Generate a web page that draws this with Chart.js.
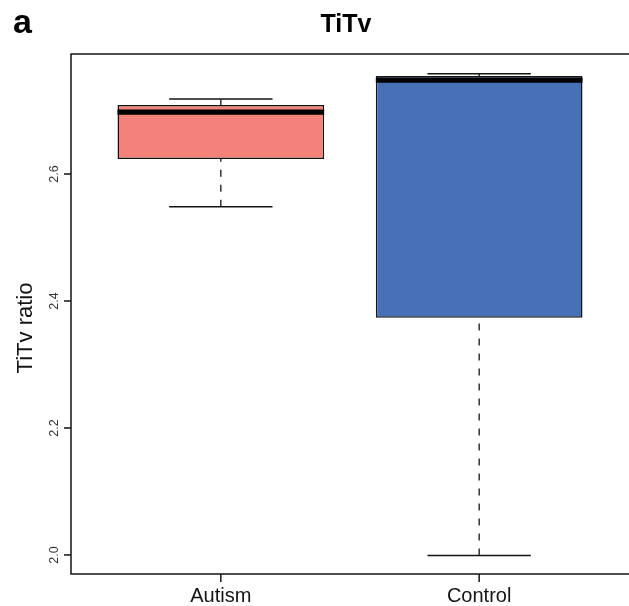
<!DOCTYPE html>
<html>
<head>
<meta charset="utf-8">
<script src="https://cdn.jsdelivr.net/npm/chart.js@4.4.1/dist/chart.umd.min.js"></script>
<style>
  html, body { margin: 0; padding: 0; background: #fff; overflow: hidden; }
  #wrap { width: 629px; height: 606px; position: relative; }
  canvas { display: block; }
</style>
</head>
<body>
<div id="wrap"><canvas id="c" width="629" height="606" style="width:629px;height:606px"></canvas></div>
<script>
// ---- data ----
const categories = ['Autism', 'Control'];
const categoryX = [1, 2];
const whiskerLow = [2.5485, 1.999];
const q1 = [2.6236, 2.3737];
const median = [2.6976, 2.7477];
const q3 = [2.7087, 2.7543];
const whiskerHigh = [2.7181, 2.7580];
const yTicks = [2.0, 2.2, 2.4, 2.6];
const yTickLabels = ['2.0', '2.2', '2.4', '2.6'];
const boxColors = ['#F4827A', '#4870B6'];

const titleText = 'TiTv';
const panelLabel = 'a';
const yTitle = 'TiTv ratio';

const FONT = '"Liberation Sans", Arial, Helvetica, sans-serif';
const INK = '#141414';

const boxplotPlugin = {
  id: 'boxplotExtras',
  afterDatasetsDraw(chart) {
    const ctx = chart.ctx;
    const xs = chart.scales.x, ys = chart.scales.y;
    const area = chart.chartArea;
    const meta = chart.getDatasetMeta(0);
    ctx.save();

    meta.data.forEach((bar, i) => {
      const cx = bar.x;
      const half = bar.width / 2;
      ctx.strokeStyle = INK;
      ctx.lineWidth = 1.3;
      ctx.setLineDash([7, 8]);
      ctx.beginPath();
      ctx.moveTo(cx, ys.getPixelForValue(whiskerLow[i]));
      ctx.lineTo(cx, ys.getPixelForValue(q1[i]));
      ctx.stroke();
      ctx.beginPath();
      ctx.moveTo(cx, ys.getPixelForValue(whiskerHigh[i]));
      ctx.lineTo(cx, ys.getPixelForValue(q3[i]));
      ctx.stroke();
      ctx.setLineDash([]);
      ctx.lineWidth = 1.5;
      const sh = half / 2;
      [whiskerLow[i], whiskerHigh[i]].forEach(v => {
        const py = ys.getPixelForValue(v);
        ctx.beginPath();
        ctx.moveTo(cx - sh, py);
        ctx.lineTo(cx + sh, py);
        ctx.stroke();
      });
      ctx.strokeStyle = '#000';
      ctx.lineWidth = 5.3;
      const my = ys.getPixelForValue(median[i]);
      ctx.beginPath();
      ctx.moveTo(cx - half, my);
      ctx.lineTo(cx + half, my);
      ctx.stroke();
    });

    ctx.strokeStyle = INK;
    ctx.lineWidth = 1.5;
    ctx.beginPath();
    ctx.moveTo(chart.width + 2, area.top);
    ctx.lineTo(area.left, area.top);
    ctx.lineTo(area.left, area.bottom);
    ctx.lineTo(chart.width + 2, area.bottom);
    ctx.stroke();

    ctx.fillStyle = INK;
    yTicks.forEach((v, i) => {
      const py = ys.getPixelForValue(v);
      ctx.beginPath();
      ctx.moveTo(area.left - 7, py);
      ctx.lineTo(area.left, py);
      ctx.stroke();
      ctx.save();
      ctx.translate(57.5, py);
      ctx.rotate(-Math.PI / 2);
      ctx.font = '12.5px ' + FONT;
      ctx.textAlign = 'center';
      ctx.textBaseline = 'alphabetic';
      ctx.fillStyle = '#333';
      ctx.fillText(yTickLabels[i], 0, 0);
      ctx.restore();
    });

    categoryX.forEach((v, i) => {
      const px = xs.getPixelForValue(v);
      ctx.beginPath();
      ctx.moveTo(px, area.bottom);
      ctx.lineTo(px, area.bottom + 8);
      ctx.stroke();
      ctx.font = '20px ' + FONT;
      ctx.textAlign = 'center';
      ctx.textBaseline = 'alphabetic';
      ctx.fillText(categories[i], px, 601.5);
    });

    ctx.save();
    ctx.translate(32, 328);
    ctx.rotate(-Math.PI / 2);
    ctx.font = '22px ' + FONT;
    ctx.textAlign = 'center';
    ctx.textBaseline = 'alphabetic';
    ctx.fillText(yTitle, 0, 0);
    ctx.restore();

    ctx.font = 'bold 25px ' + FONT;
    ctx.textAlign = 'center';
    ctx.textBaseline = 'alphabetic';
    ctx.fillStyle = '#000';
    ctx.fillText(titleText, 346, 32);

    ctx.font = 'bold 34px ' + FONT;
    ctx.textAlign = 'left';
    ctx.fillText(panelLabel, 13, 33);

    ctx.restore();
  }
};

new Chart(document.getElementById('c'), {
  type: 'bar',
  data: {
    datasets: [{
      data: categoryX.map((x, i) => ({ x: x, y: [q1[i], q3[i]] })),
      backgroundColor: boxColors,
      borderColor: INK,
      borderWidth: 1.5,
      borderSkipped: false,
      categoryPercentage: 1.0,
      barPercentage: 0.8
    }]
  },
  options: {
    responsive: false,
    animation: false,
    devicePixelRatio: 1,
    layout: { padding: { left: 71, top: 54, right: 0, bottom: 32 } },
    plugins: { legend: { display: false }, tooltip: { enabled: false }, title: { display: false } },
    scales: {
      x: {
        type: 'linear',
        display: false,
        offset: false,
        grid: { offset: false },
        min: 0.42,
        max: 2.58,
        afterBuildTicks: s => { s.ticks = categoryX.map(v => ({ value: v })); }
      },
      y: {
        type: 'linear',
        display: false,
        min: 1.970,
        max: 2.789,
        afterBuildTicks: s => { s.ticks = yTicks.map(v => ({ value: v })); }
      }
    }
  },
  plugins: [boxplotPlugin]
});
</script>
</body>
</html>
